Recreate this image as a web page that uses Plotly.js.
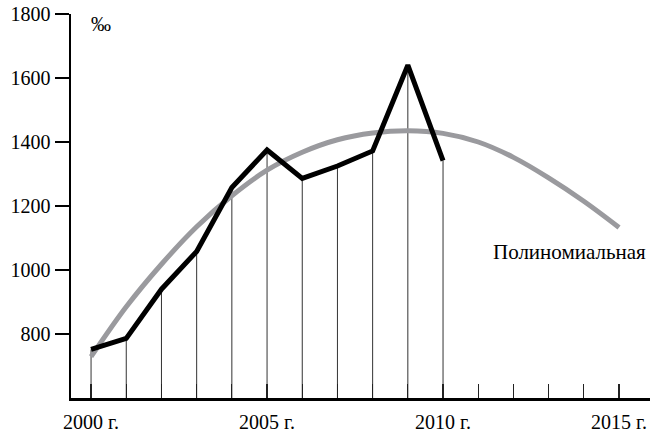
<!DOCTYPE html>
<html>
<head>
<meta charset="utf-8">
<script src="https://cdn.plot.ly/plotly-3.0.1.min.js"></script>
<style>html,body{margin:0;padding:0;background:#fff;}#chart{width:650px;height:433px;}</style>
</head>
<body>
<div id="chart"></div>
<script>
// Observed data (‰)
const years = [2000, 2001, 2002, 2003, 2004, 2005, 2006, 2007, 2008, 2009, 2010];
const values = [752, 786, 940, 1058, 1258, 1375, 1286, 1325, 1372, 1640, 1342];

// Polynomial trend
const trendYears = [2000, 2001, 2002, 2003, 2004, 2005, 2006, 2007, 2008, 2009, 2010, 2011, 2012, 2013, 2014, 2015];
const trendValues = [729, 885, 1018, 1135, 1232, 1312, 1368, 1407, 1428, 1435, 1427, 1400, 1352, 1288, 1215, 1133];

// Axis ticks
const yTicks = [800, 1000, 1200, 1400, 1600, 1800];
const xTicks = [2000, 2001, 2002, 2003, 2004, 2005, 2006, 2007, 2008, 2009, 2010, 2011, 2012, 2013, 2014, 2015];
const xTickText = ['2000 г.', '', '', '', '', '2005 г.', '', '', '', '', '2010 г.', '', '', '', '', '2015 г.'];
const yBase = 600;

const FONT = 'Liberation Serif, Times New Roman, serif';

// Drop lines from each point to the axis
const dropX = [], dropY = [];
years.forEach((yr, i) => { dropX.push(yr, yr, null); dropY.push(yBase, values[i], null); });

const traces = [
  {x: dropX, y: dropY, mode: 'lines', line: {color: '#333', width: 1}, hoverinfo: 'skip', showlegend: false, cliponaxis: false},
  {x: trendYears, y: trendValues, mode: 'lines', line: {color: '#9a9a9e', width: 5, shape: 'spline', smoothing: 1}, showlegend: false},
  {x: years, y: values, mode: 'lines', line: {color: '#000', width: 5, shape: 'linear'}, showlegend: false}
];

const layout = {
  width: 650, height: 433,
  margin: {l: 71, r: 0, t: 14, b: 35},
  paper_bgcolor: '#fff', plot_bgcolor: '#fff',
  font: {family: FONT, size: 20, color: '#000'},
  showlegend: false,
  xaxis: {
    range: [1999.43, 2015.88],
    tickmode: 'array', tickvals: xTicks, ticktext: xTickText,
    ticks: 'inside', ticklen: 14, tickwidth: 1.2, tickcolor: '#222',
    ticklabelstandoff: 4,
    showline: true, linecolor: '#000', linewidth: 2.5,
    showgrid: false, zeroline: false,
    tickfont: {family: FONT, size: 20, color: '#000'}
  },
  yaxis: {
    range: [600, 1800],
    tickmode: 'array', tickvals: yTicks,
    ticks: 'outside', ticklen: 14, tickwidth: 2, tickcolor: '#000',
    showline: true, linecolor: '#000', linewidth: 2.5,
    showgrid: false, zeroline: false,
    tickfont: {family: FONT, size: 20, color: '#000'}
  },
  annotations: [
    {xref: 'paper', yref: 'paper', x: 0.052, y: 0.975, xanchor: 'center', yanchor: 'middle',
     text: '‰', showarrow: false, font: {family: FONT, size: 20, color: '#000'}},
    {xref: 'x', yref: 'y', x: 2013.6, y: 1056, xanchor: 'center', yanchor: 'middle',
     text: 'Полиномиальная', showarrow: false, font: {family: FONT, size: 21, color: '#000'}}
  ]
};

Plotly.newPlot('chart', traces, layout, {staticPlot: true, displayModeBar: false});
</script>
</body>
</html>
